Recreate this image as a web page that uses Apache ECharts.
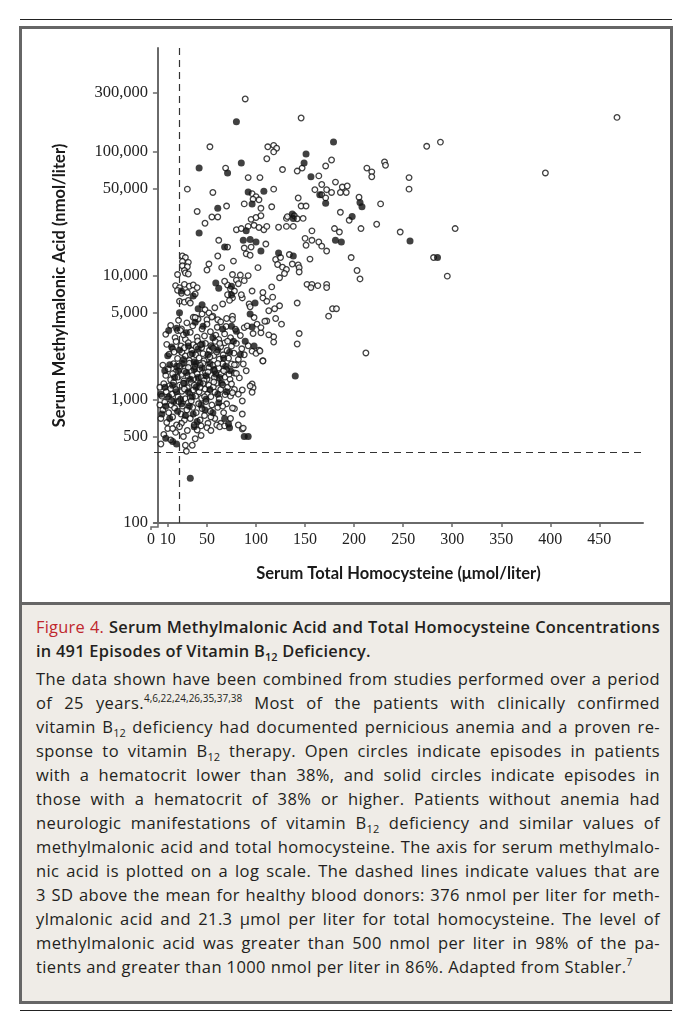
<!DOCTYPE html>
<html><head><meta charset="utf-8">
<script src="https://cdn.jsdelivr.net/npm/echarts@6/dist/echarts.min.js"></script>
<style>
html,body{margin:0;padding:0;background:#fff;}
body{width:681px;height:1024px;position:relative;overflow:hidden;font-family:'Open Sans','Noto Sans',sans-serif;color:#231f20;}
.abs{position:absolute;}
#chart{position:absolute;left:0;top:0;width:681px;height:600px;}
.line{position:absolute;left:36px;width:624px;height:24px;line-height:24px;white-space:nowrap;font-size:16.5px;letter-spacing:0.4px;}
.title{font-weight:600;font-size:16.4px;letter-spacing:0.25px;}
.red{color:#c0272d;font-weight:400;}
.sub{font-size:11px;position:relative;top:4px;letter-spacing:0;}
.sup{font-size:10px;position:relative;top:-7px;letter-spacing:0;}
</style></head><body>
<div class="abs" style="left:20px;top:19px;width:652px;border-top:1.5px solid #222"></div>
<div class="abs" style="left:19px;top:26px;width:654px;height:978px;box-sizing:border-box;border:3px solid #666"></div>
<div class="abs" style="left:22px;top:605px;width:648px;height:396px;background:#efece7"></div>
<div class="abs" style="left:19px;top:602px;width:654px;height:3px;background:#666"></div>
<div class="abs" style="left:20px;top:1010px;width:652px;border-top:1.5px solid #222"></div>
<div id="chart"></div>
<div id="caption"></div>
<script>
// ---- axis settings / reference values ----
const X_MIN = -4, X_MAX = 494.5;
const Y_MIN = 100, Y_MAX = 691800;
const X_TICKS = [10, 50, 100, 150, 200, 250, 300, 350, 400, 450];
const X_LABELS = [-4, 10, 50, 100, 150, 200, 250, 300, 350, 400, 450];
const Y_TICKS = [100, 500, 1000, 5000, 10000, 50000, 100000, 300000];
const MMA_CUTOFF = 376;   // nmol/liter
const HCY_CUTOFF = 21.3;  // µmol/liter
const X_NAME = 'Serum Total Homocysteine (\u03bcmol/liter)';
const Y_NAME = 'Serum Methylmalonic Acid (nmol/liter)';

// ---- open circles: hematocrit < 38% ----
const openUpper = [[89,268000],[146,188000],[53,110000],[112,110000],[118,113000],[121,107000],[118,100000],[111,88000],[69,74000],[147,74000],[142,70000],[127,72000],[171,77000],[177,86000],[213,74000],[218,69000],[218,63000],[231,83000],[164,64000],[92,62000],[104,62000],[96,46000],[100,43500],[103,41000],[97,41500],[118,50000],[56,47000],[30,50000],[40,33000],[70,36500],[55,29800],[61,29800],[48,26500],[88,38000],[105,35000],[116,36000],[143,42400],[146,36500],[151,36500],[131,29000],[139,30500],[142,28800],[148,29000],[160,49500],[167,54500],[172,49500],[167,45000],[171,42500],[177,47000],[186,47000],[192,47000],[181,57000],[188,52000],[193,53000],[205,43000],[227,38000],[195,28000],[186,32500],[223,26000],[207,24000],[247,22500],[180,24000],[185,22500],[157,23000],[150,20000],[151,17600],[157,19300],[164,18700],[167,17300],[172,15800],[197,14000],[203,11000],[206,9400],[155,13600],[80,23500],[85,24000],[92,25000],[98,25500],[103,24500],[108,23500],[95,28500],[100,29500],[105,30500],[111,25000],[123,24600],[131,25000],[138,25000],[132,30000],[62,19300],[61,14400],[88,16700],[95,17000],[90,15000],[94,14600],[110,18000],[71,17000],[77,13100],[65,11600],[52,12400],[50,11100],[102,11600],[120,13500],[125,14000],[122,12300],[127,11700],[131,11200],[134,14800],[137,12400],[143,12200],[144,11600],[144,10700],[129,10400],[124,9600],[25,14400],[28,14000],[25,13000],[31,12800],[25,12000],[30,11800],[27,11000],[20,10200],[28,10500],[31,10300]];
const openRight = [[468,190000],[395,67600],[274,111000],[288,120000],[256,62000],[256,50000],[281,14000],[295,9900],[303,24000],[232,78000],[212,2370]];
const openMiddle = [[18,8300],[22,8000],[27,8500],[32,8200],[36,8400],[40,8000],[24,7200],[30,7300],[38,7100],[20,7600],[22,6200],[27,6100],[31,6300],[33,6000],[48,5300],[52,5000],[56,4700],[45,4900],[40,4500],[36,4600],[50,4400],[58,5500],[66,5900],[61,4400],[70,4500],[76,4700],[20,3600],[24,3700],[71,8400],[74,7800],[71,7000],[76,6600],[73,6300],[76,10200],[84,10100],[92,10000],[80,9200],[88,9100],[107,6600],[111,6200],[117,6700],[124,5700],[119,5400],[113,5200],[111,4300],[120,4500],[126,4050],[142,6000],[144,3400],[142,2800],[118,3200],[118,2900],[105,3450],[97,3400],[88,3800],[101,4050],[105,3800],[93,5900],[94,5600],[107,2050],[96,2450],[103,2500],[86,6600],[78,7500],[96,7500],[107,7300],[116,8100],[152,8500],[157,8500],[156,8000],[172,8500],[172,8000],[174,4700],[178,5400],[182,5400],[163,8300],[68,9000],[82,8600],[85,7000]];
const openCoreA = [[8,3350],[13,3950],[17.5,3150],[21,4350],[23,3600],[28,3050],[29.5,4150],[33,3480],[35.5,3920],[40,3180],[41,4450],[45,3700],[47.5,3250],[50,4050],[53.5,3520],[55,4620],[59,3300],[60.5,3820],[64,4230],[68,3380],[69.5,3880],[74,3150],[76,4420],[79,3680],[84,3280],[91,3920],[109,4280],[113,3320],[98,4580],[26,3320],[38,4580],[62,3050]];
const openCoreB = [[9,2780],[11.5,2320],[15,2560],[18.5,2930],[20,2140],[23.5,2700],[24.5,2390],[28,2240],[31,2870],[32,2060],[34.5,2480],[36,2760],[38.5,2290],[40.5,2960],[42,2160],[44.5,2610],[46,2340],[48.5,2830],[50,2090],[52.5,2490],[54,2710],[57,2260],[58.5,2940],[60,2410],[62.5,2110],[64,2660],[66.5,2290],[68,2860],[70.5,2480],[72,2150],[75,2690],[77.5,2360],[80,2830],[82,2100],[85.5,2560],[88,2290],[92,2710],[27,2610],[39,2640],[47,2050],[56.5,2590],[63,2830],[71,2950],[16.5,2410],[33,2300],[43.5,2760],[53,2200],[100,2350],[104,2460],[107,2040]];
const openCoreC = [[5,1890],[8,1560],[10.5,1760],[13,1440],[16,1940],[18,1660],[20.5,1510],[22,1860],[24,1590],[26.5,1410],[28,1790],[30.5,1550],[32,1960],[34,1690],[36.5,1460],[38,1840],[40,1610],[42.5,1760],[44,1500],[46,1950],[48.5,1640],[50,1450],[52,1810],[54.5,1560],[56,1890],[58,1710],[60.5,1440],[62,1790],[64.5,1600],[66,1940],[68.5,1510],[70,1740],[72.5,1590],[75,1930],[78,1630],[80,1900],[83,1490],[87,1930],[90,1700],[27,1690],[35,1560],[43,1890],[47,1420],[57.5,1500],[67,1700],[15,1610],[31,1810],[51,1660],[61,1950],[73.5,1450],[78,1900],[80,1620]];
const openCoreD = [[2,1250],[4,1060],[6,1340],[8.5,1150],[10,1010],[12,1290],[14.5,1100],[16,1370],[18,1200],[20.5,1050],[22,1300],[24.5,1160],[26,1350],[28,1010],[30,1240],[32.5,1110],[34,1370],[36,1190],[38.5,1060],[40,1290],[42,1150],[44.5,1020],[46,1340],[48,1210],[50.5,1100],[52,1300],[54,1050],[56.5,1260],[58,1140],[60,1350],[62.5,1010],[64,1200],[66,1310],[68.5,1090],[71,1250],[74,1060],[78,1200],[82,1100],[27,1210],[37,1300],[47.5,1050],[57,1380],[13,1220],[33,1030],[43,1250],[75,1330],[76,1130],[86,1190],[96,1330],[97,1240],[96,1140],[94,1280],[86,970]];
const openCoreE = [[2,900],[3,700],[5,820],[7,950],[9,650],[11,780],[13.5,900],[15,720],[17,850],[19,620],[21,960],[23.5,760],[25,880],[27,680],[29.5,820],[31,940],[33,700],[35.5,860],[37,620],[39,780],[41.5,920],[43,680],[45,840],[47.5,740],[49,960],[51,640],[53.5,800],[55,900],[58,700],[61,860],[64,640],[67,780],[70,920],[74,700],[78,840],[82,620],[86,760],[76,850],[14,980],[24,640],[34,970],[44,610],[54,720],[60,620],[66,880]];
const openCoreF = [[3,435],[6,520],[10,580],[13,470],[18,540],[22,600],[26,500],[28,425],[30,560],[35,425],[40,565],[44,510],[50,590],[29,380],[63,600],[68,610],[86,575],[15,580],[38,480],[54,560],[87,585]];

// ---- solid circles: hematocrit >= 38% ----
const solidUpper = [[80,175000],[179,120000],[42,74000],[71,67600],[85,81500],[151,96000],[149,81500],[156,63000],[92,47400],[108,48000],[96,38000],[61,35000],[42,22100],[137,31500],[138,29000],[165,45000],[171,38500],[206,39000],[208,36000],[198,30000],[181,19300],[187,18700],[68,17000],[87,19300],[94,19600],[100,18700],[105,15800],[90,23000],[123,15200],[138,14400],[257,19000],[285,14000]];
const solidMiddle = [[24,7500],[36,6840],[59,8700],[62,7900],[75,7000],[22,5000],[45,5800],[41,5400],[75,8200],[99,6000],[94,4900]];
const solidCore = [[11,3600],[19,3750],[29,3450],[38,4200],[46,3900],[56,3150],[66,3700],[75,3900],[96,3850],[80,3550],[10,2250],[14,2650],[22,2500],[26,2100],[31,2700],[35,2350],[41,2550],[45,2800],[51,2300],[55,2650],[61,2500],[67,2150],[73,2400],[89,2950],[98,2700],[84,2300],[77,2950],[37,2000],[7,1700],[12,1900],[17,1500],[21,1700],[25,1950],[29,1650],[33,1450],[37,1750],[41,1500],[45,1800],[49,1550],[53,1950],[59,1600],[63,1500],[69,1850],[74,1700],[19,1850],[39,1950],[57,1750],[3,1100],[7,1250],[11,1050],[15,1300],[19,1150],[23,1000],[27,1350],[31,1150],[35,1050],[39,1250],[43,1350],[49,1000],[53,1200],[61,1100],[65,1350],[70,1150],[4,760],[8,880],[12,700],[16,960],[20,800],[24,920],[28,740],[32,880],[36,760],[40,660],[44,900],[48,820],[56,780],[62,940],[72,630],[68,700],[8,485],[15,455],[19,435],[37,600],[33,230],[73,590],[88,500],[92,500],[140,1540]];

const openAll = [].concat(openUpper, openRight, openMiddle, openCoreA, openCoreB, openCoreC, openCoreD, openCoreE, openCoreF);
const solidAll = [].concat(solidUpper, solidMiddle, solidCore);

const AX = '#6a6a6a';
const chart = echarts.init(document.getElementById('chart'), null, {renderer: 'canvas'});
chart.setOption({
  animation: false,
  grid: {left: 154, top: 48, width: 489, height: 475},
  xAxis: {
    type: 'value', min: X_MIN, max: X_MAX,
    axisLine: {show: true, onZero: false, lineStyle: {color: AX, width: 2}},
    axisTick: {show: true, customValues: X_TICKS, length: 4, lineStyle: {color: AX, width: 1.5}},
    axisLabel: {customValues: X_LABELS, formatter: v => v < 0 ? '{z|0}' : String(v), margin: 9,
      fontFamily: 'Liberation Serif', fontSize: 16, color: '#222',
      rich: {z: {fontFamily: 'Liberation Serif', fontSize: 16, color: '#222', padding: [0, 6, 0, 0]}}},
    splitLine: {show: false},
    name: X_NAME, nameLocation: 'middle', nameGap: 42,
    nameTextStyle: {fontFamily: 'Lato', fontSize: 16.5, fontWeight: 'bold', color: '#1a1a1a'}
  },
  yAxis: {
    type: 'log', logBase: 10, min: Y_MIN, max: Y_MAX,
    axisLine: {show: true, lineStyle: {color: AX, width: 2}},
    axisTick: {show: true, customValues: Y_TICKS, length: 5, lineStyle: {color: AX, width: 1.5}},
    axisLabel: {customValues: Y_TICKS, formatter: v => Math.round(v).toLocaleString('en-US'), margin: 6,
      fontFamily: 'Liberation Serif', fontSize: 16.5, color: '#222'},
    splitLine: {show: false},
    minorTick: {show: false},
    name: Y_NAME, nameLocation: 'middle', nameGap: 86,
    nameTextStyle: {fontFamily: 'Lato', fontSize: 16.5, fontWeight: 'bold', color: '#1a1a1a'}
  },
  graphic: [{
    type: 'polyline', silent: true,
    shape: {points: [[151, 530], [151, 527], [158, 527], [158, 523]]},
    style: {stroke: AX, lineWidth: 1.5, fill: null}
  }],
  series: [
    {
      type: 'scatter', name: 'open', data: openAll, symbol: 'circle', symbolSize: 5.6,
      itemStyle: {color: '#fff', borderColor: '#111', borderWidth: 1.3},
      markLine: {
        silent: true, symbol: ['none', 'none'], label: {show: false},
        lineStyle: {color: '#333', type: [7, 5], width: 1.2},
        data: [{yAxis: MMA_CUTOFF}, {xAxis: HCY_CUTOFF}]
      }
    },
    {
      type: 'scatter', name: 'solid', data: solidAll, symbol: 'circle', symbolSize: 7,
      itemStyle: {color: '#111', borderColor: '#111', borderWidth: 0}
    }
  ]
});

// ---- caption ----
const B12 = 'B<span class="sub">12</span>';
const titleLines = [
  '<span class="red">Figure 4.</span> Serum Methylmalonic Acid and Total Homocysteine Concentrations',
  'in 491 Episodes of Vitamin ' + B12 + ' Deficiency.'
];
const bodyLines = [
  'The data shown have been combined from studies performed over a period',
  'of 25 years.<span class="sup">4,6,22,24,26,35,37,38</span> Most of the patients with clinically confirmed',
  'vitamin ' + B12 + ' deficiency had documented pernicious anemia and a proven re-',
  'sponse to vitamin ' + B12 + ' therapy. Open circles indicate episodes in patients',
  'with a hematocrit lower than 38%, and solid circles indicate episodes in',
  'those with a hematocrit of 38% or higher. Patients without anemia had',
  'neurologic manifestations of vitamin ' + B12 + ' deficiency and similar values of',
  'methylmalonic acid and total homocysteine. The axis for serum methylmalo-',
  'nic acid is plotted on a log scale. The dashed lines indicate values that are',
  '3 SD above the mean for healthy blood donors: 376 nmol per liter for meth-',
  'ylmalonic acid and 21.3 \u03bcmol per liter for total homocysteine. The level of',
  'methylmalonic acid was greater than 500 nmol per liter in 98% of the pa-',
  'tients and greater than 1000 nmol per liter in 86%. Adapted from Stabler.<span class="sup">7</span>'
];
const cap = document.getElementById('caption');
function addLine(html, top, cls, justify) {
  const d = document.createElement('div');
  d.className = 'line ' + cls;
  d.style.top = top + 'px';
  const s = document.createElement('span');
  s.innerHTML = html;
  d.appendChild(s);
  cap.appendChild(d);
  if (justify) {
    const w = s.getBoundingClientRect().width;
    const n = (s.textContent.match(/ /g) || []).length;
    if (n > 0) s.style.wordSpacing = Math.max(-2, (624 - w) / n) + 'px';
  }
}
addLine(titleLines[0], 615, 'title', true);
addLine(titleLines[1], 639, 'title', false);
bodyLines.forEach((t, i) => addLine(t, 667 + 24 * i, 'body', i < bodyLines.length - 1));
</script>
</body></html>
